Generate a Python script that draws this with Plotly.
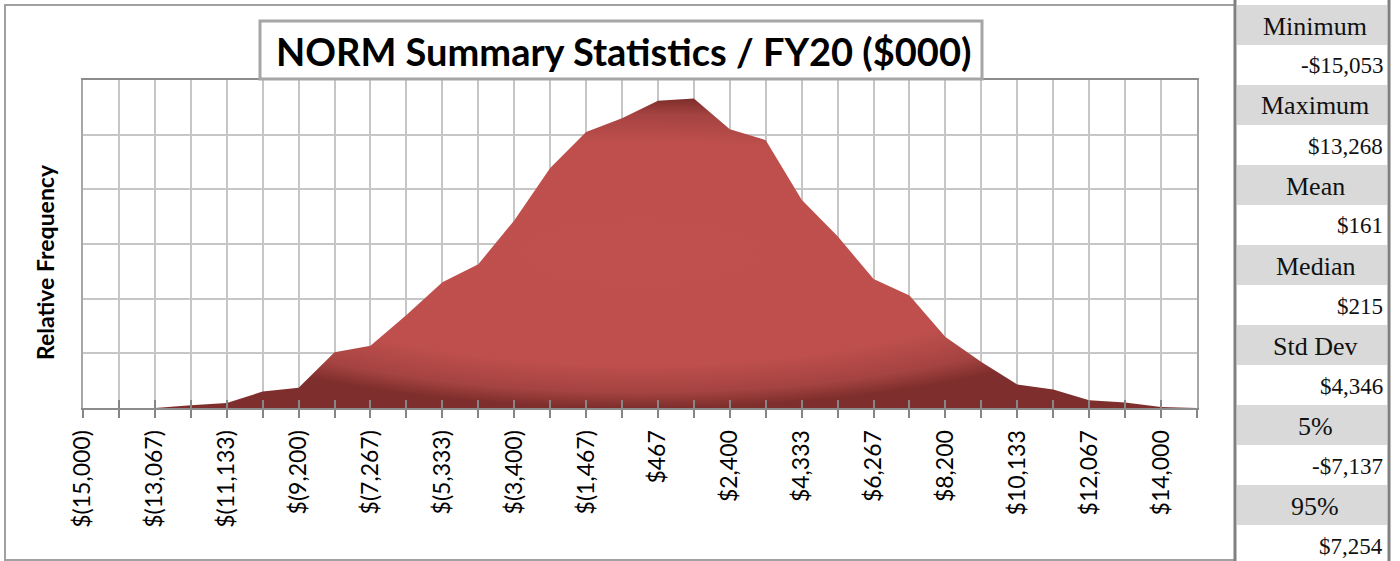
import plotly.graph_objects as go

# ---- data ----
bin_values = [-15000, -14033, -13067, -12100, -11133, -10167, -9200, -8233,
              -7267, -6300, -5333, -4367, -3400, -2433, -1467, -500,
              467, 1433, 2400, 3367, 4333, 5300, 6267, 7233,
              8200, 9167, 10133, 11100, 12067, 13033, 14000, 14967]
rel_freq = [0.0, 0.0, 0.0, 0.05, 0.09, 0.30, 0.37, 1.02,
            1.14, 1.70, 2.30, 2.63, 3.43, 4.39, 5.05, 5.30,
            5.62, 5.66, 5.10, 4.90, 3.81, 3.14, 2.36, 2.06,
            1.30, 0.84, 0.43, 0.34, 0.14, 0.10, 0.02, 0.0]
label_values = [-15000, -13067, -11133, -9200, -7267, -5333, -3400, -1467,
                467, 2400, 4333, 6267, 8200, 10133, 12067, 14000]
label_text = ["$(15,000)", "$(13,067)", "$(11,133)", "$(9,200)", "$(7,267)",
              "$(5,333)", "$(3,400)", "$(1,467)", "$467", "$2,400", "$4,333",
              "$6,267", "$8,200", "$10,133", "$12,067", "$14,000"]
stat_names = ["Minimum", "Maximum", "Mean", "Median", "Std Dev", "5%", "95%"]
stat_values = ["-$15,053", "$13,268", "$161", "$215", "$4,346", "-$7,137", "$7,254"]

title_text = "NORM Summary Statistics / FY20 ($000)"

# ---- geometry helpers (pixel -> paper) ----
W, H = 1400, 561
L, R, T, B = 83, 1197, 80, 408


def px(x):
    return (x - L) / (R - L)


def py(y):
    return (B - y) / (B - T)


fig = go.Figure()
fig.add_trace(go.Scatter(
    x=bin_values, y=rel_freq, mode="lines", fill="tozeroy",
    line=dict(width=0, color="#8E3533"),
    fillgradient=dict(type="radial",
                      colorscale=[[0, "#C0504D"], [0.72, "#BE4F4C"],
                                  [0.9, "#A44341"], [1, "#7E2E2C"]]),
    hoverinfo="skip", showlegend=False,
))
# invisible helper trace for overlaying tick axis
fig.add_trace(go.Scatter(x=[bin_values[0]], y=[0], xaxis="x2", mode="markers",
                         marker=dict(opacity=0), hoverinfo="skip", showlegend=False))

tickfont = dict(family="Lato, Carlito, sans-serif", size=23, color="#000000")
fig.update_layout(
    width=W, height=H,
    margin=dict(l=L, r=W - R, t=T, b=H - B, pad=0),
    paper_bgcolor="white", plot_bgcolor="white",
    xaxis=dict(range=[bin_values[0], bin_values[-1]], tickvals=label_values,
               ticktext=label_text, tickangle=-90, tickfont=tickfont,
               ticks="outside", ticklen=8, tickwidth=2, tickcolor="#868686",
               showgrid=True, gridcolor="#C6C6C6", gridwidth=1.5,
               minor=dict(tickvals=bin_values, ticks="outside", ticklen=8,
                          tickwidth=2, tickcolor="#868686", showgrid=True,
                          gridcolor="#C6C6C6", gridwidth=1.5),
               showline=True, linecolor="#8C8C8C", linewidth=2, mirror=True,
               zeroline=False, ticklabelstandoff=3),
    xaxis2=dict(range=[bin_values[0], bin_values[-1]], overlaying="x",
                anchor="y", side="bottom", tickvals=bin_values,
                showticklabels=False, ticks="inside", ticklen=8, tickwidth=2,
                tickcolor="#868686", showgrid=False, showline=False,
                zeroline=False),
    yaxis=dict(range=[0, 6], dtick=1, showticklabels=False, showgrid=True,
               gridcolor="#C6C6C6", gridwidth=1.5, zeroline=False,
               showline=True, linecolor="#A6A6A6", linewidth=2, mirror=True,
               ticks=""),
)

shapes = []
# outer chart border
shapes.append(dict(type="rect", xref="paper", yref="paper",
                   x0=px(5), x1=px(1235), y0=py(5), y1=py(560),
                   line=dict(color="#A0A0A0", width=2), fillcolor="rgba(0,0,0,0)",
                   layer="below"))
# title box
shapes.append(dict(type="rect", xref="paper", yref="paper",
                   x0=px(260), x1=px(982), y0=py(21), y1=py(79),
                   line=dict(color="#A6A6A6", width=3), fillcolor="white",
                   layer="above"))
# right statistics panel bands
for i in range(len(stat_names)):
    top = 5 + 80 * i
    shapes.append(dict(type="rect", xref="paper", yref="paper",
                       x0=px(1237), x1=px(1387), y0=py(top), y1=py(top + 40),
                       line=dict(width=0), fillcolor="#D9D9D9", layer="below"))
# panel vertical borders
for xv in (1235, 1389):
    shapes.append(dict(type="line", xref="paper", yref="paper",
                       x0=px(xv), x1=px(xv), y0=py(0), y1=py(561),
                       line=dict(color="#808080", width=3)))
fig.update_layout(shapes=shapes)

ann = []
ann.append(dict(text="<b>" + title_text + "</b>", xref="paper", yref="paper",
                x=px(623), y=py(51), xanchor="center", yanchor="middle",
                showarrow=False,
                font=dict(family="Lato, Carlito, sans-serif", size=38, color="#000")))
ann.append(dict(text="<b>Relative Frequency</b>", xref="paper", yref="paper",
                x=px(45), y=py(262), xanchor="center", yanchor="middle",
                textangle=-90, showarrow=False,
                font=dict(family="Lato, Carlito, sans-serif", size=23, color="#000")))
serif = "Liberation Serif, Times New Roman, serif"
for i, (nm, val) in enumerate(zip(stat_names, stat_values)):
    top = 5 + 80 * i
    ann.append(dict(text=nm, xref="paper", yref="paper", x=px(1315),
                    y=py(top + 21), xanchor="center", yanchor="middle",
                    showarrow=False, font=dict(family=serif, size=26, color="#111")))
    ann.append(dict(text=val, xref="paper", yref="paper", x=px(1385),
                    y=py(top + 61), xanchor="right", yanchor="middle",
                    showarrow=False, font=dict(family=serif, size=23, color="#111")))
fig.update_layout(annotations=ann)

fig.write_html("out.html", config={"displayModeBar": False},
               post_script="document.body.style.margin='0';document.body.style.overflow='hidden';")
